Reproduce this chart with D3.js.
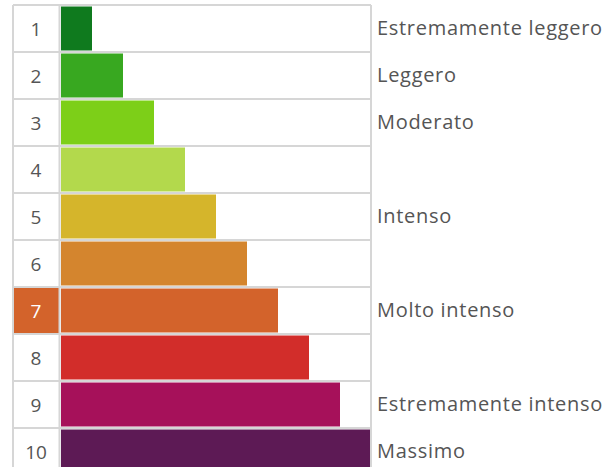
<!DOCTYPE html>
<html><head><meta charset="utf-8">
<script src="https://cdn.jsdelivr.net/npm/d3@7"></script>
<style>html,body{margin:0;padding:0;background:#fff;}svg{display:block;}</style>
</head><body><div id="chart"></div>
<script>
const levels = ["1","2","3","4","5","6","7","8","9","10"];
const values = [1,2,3,4,5,6,7,8,9,10];
const labels = ["Estremamente leggero","Leggero","Moderato","","Intenso","","Molto intenso","","Estremamente intenso","Massimo"];
const colors = ["#0f7a1e","#38a820","#7dcf18","#b3d94c","#d5b52b","#d4852e","#d3632b","#d22d2a","#a6115a","#5d1a55"];
const highlighted = "7";

const W = 605, H = 467;
const svg = d3.select("#chart").append("svg").attr("width", W).attr("height", H);
const y = d3.scaleBand().domain(levels).range([5, 475]);
const x = d3.scaleLinear().domain([0, 10]).range([61, 371]);
const font = "'Open Sans', sans-serif";
const bw = y.bandwidth();

const rows = svg.selectAll("g.row").data(levels).join("g").attr("class","row")
  .attr("transform", d => `translate(0,${y(d)})`);

// highlighted number cell
rows.filter(d => d === highlighted).append("rect")
  .attr("x", 13).attr("y", 0).attr("width", 46).attr("height", bw)
  .attr("fill", "#d3632b");

// bars
rows.append("rect")
  .attr("x", x(0)).attr("y", 1.5)
  .attr("width", (d,i) => x(values[i]) - x(0))
  .attr("height", bw - 3)
  .attr("fill", (d,i) => colors[i]);

// grid lines
const grid = svg.append("g").attr("stroke", "#d6d6d6").attr("stroke-width", 2).attr("fill","none");
levels.forEach(d => {
  grid.append("line").attr("x1", 13).attr("x2", 371).attr("y1", y(d)).attr("y2", y(d));
});
grid.append("line").attr("x1", 13).attr("x2", 371).attr("y1", y.range()[1]).attr("y2", y.range()[1]);
[13, 59.5, 371].forEach(xx => grid.append("line").attr("x1", xx).attr("x2", xx).attr("y1", y.range()[0]).attr("y2", y.range()[1]));

// numbers
rows.append("text")
  .attr("x", 36).attr("y", bw/2 + 7)
  .attr("text-anchor", "middle")
  .attr("font-family", font).attr("font-size", 19)
  .attr("fill", d => d === highlighted ? "#fff" : "#555")
  .text(d => d);

// labels
rows.append("text")
  .attr("x", 377).attr("y", 29.5)
  .attr("font-family", font).attr("font-size", 20)
  .attr("letter-spacing", 0.7)
  .attr("fill", "#555")
  .text((d,i) => labels[i]);
</script></body></html>
